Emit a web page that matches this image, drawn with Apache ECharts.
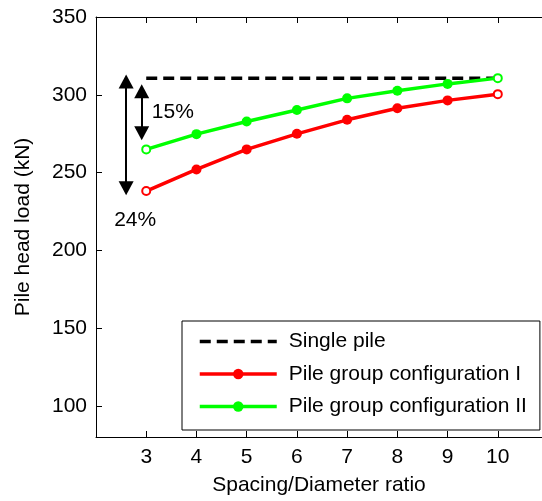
<!DOCTYPE html>
<html>
<head>
<meta charset="utf-8">
<script src="https://cdn.jsdelivr.net/npm/echarts@6/dist/echarts.min.js"></script>
<style>
html,body{margin:0;padding:0;background:#fff;}
#chart{width:542px;height:501px;}
</style>
</head>
<body>
<div id="chart"></div>
<script>
const spacingRatio = [3, 4, 5, 6, 7, 8, 9, 10];
const xTicks = [3, 4, 5, 6, 7, 8, 9, 10];
const yTicks = [100, 150, 200, 250, 300, 350];
const singlePileLoad = 310.7;
const groupConfigI = [238.1, 252.0, 264.9, 274.9, 283.9, 291.3, 296.4, 300.4];
const groupConfigII = [264.9, 274.7, 282.8, 290.2, 297.7, 302.6, 307.0, 310.7];
const arrowX = [2.6, 2.91];
const arrowTop = [308.6, 302.3];
const arrowBottom = [239.9, 275.2];
const noteTexts = ['15%', '24%'];
const noteX = [3.53, 2.78];
const noteY = [289, 219.6];

const FONT = 'Liberation Sans, Arial, sans-serif';
const FS = 21;

function buildData(vals) {
  return vals.map((v, i) => {
    const end = (i === 0 || i === vals.length - 1);
    return end
      ? { value: [spacingRatio[i], v], symbol: 'emptyCircle', symbolSize: 8, itemStyle: { borderWidth: 3 } }
      : { value: [spacingRatio[i], v], symbol: 'circle', symbolSize: 10 };
  });
}

const chart = echarts.init(document.getElementById('chart'), null, { renderer: 'canvas' });
const axisCommon = {
  axisLine: { show: true, onZero: false, lineStyle: { color: '#000', width: 1 } },
  splitLine: { show: false }
};
chart.setOption({
  animation: false,
  backgroundColor: '#fff',
  textStyle: { fontFamily: FONT },
  grid: { left: 96, top: 17, right: 0, bottom: 60, containLabel: false },
  xAxis: [
    Object.assign({
      type: 'value', min: 2, max: 10.88, position: 'bottom',
      name: 'Spacing/Diameter ratio', nameLocation: 'middle', nameGap: 38,
      nameTextStyle: { fontSize: FS, color: '#000', fontFamily: FONT },
      axisTick: { show: true, inside: true, length: 6, customValues: xTicks, lineStyle: { color: '#000' } },
      axisLabel: { show: true, customValues: xTicks, fontSize: FS, color: '#000', margin: 10, fontFamily: FONT }
    }, axisCommon),
    Object.assign({
      type: 'value', min: 2, max: 10.88, position: 'top',
      axisTick: { show: true, inside: true, length: 6, customValues: xTicks, lineStyle: { color: '#000' } },
      axisLabel: { show: false }
    }, axisCommon)
  ],
  yAxis: [
    Object.assign({
      type: 'value', min: 80, max: 350, position: 'left',
      name: 'Pile head load (kN)', nameLocation: 'middle', nameGap: 62,
      nameTextStyle: { fontSize: FS, color: '#000', fontFamily: FONT },
      axisTick: { show: true, inside: true, length: 6, customValues: yTicks, lineStyle: { color: '#000' } },
      axisLabel: { show: true, customValues: yTicks, fontSize: FS, color: '#000', margin: 9, fontFamily: FONT }
    }, axisCommon)
  ],
  legend: {
    orient: 'vertical',
    left: 182, top: 321,
    padding: [10, 13, 13, 16],
    itemGap: 11.5,
    itemWidth: 77,
    itemHeight: 13,
    borderColor: '#000', borderWidth: 1,
    backgroundColor: '#fff',
    lineStyle: { width: 3.5 },
    textStyle: { fontSize: FS, color: '#000', fontFamily: FONT, padding: [0, 0, 0, 7] },
    data: ['Single pile', 'Pile group configuration I', 'Pile group configuration II']
  },
  series: [
    {
      name: 'Single pile', type: 'line', symbol: 'none',
      data: [[spacingRatio[0], singlePileLoad], [spacingRatio[spacingRatio.length - 1], singlePileLoad]],
      lineStyle: { color: '#000', width: 3.5, type: [11, 6] },
      itemStyle: { color: 'rgba(0,0,0,0)' }
    },
    {
      name: 'Pile group configuration I', type: 'line', symbol: 'circle', symbolSize: 10,
      data: buildData(groupConfigI),
      lineStyle: { color: '#ff0000', width: 3.5 },
      itemStyle: { color: '#ff0000', borderColor: '#ff0000', borderWidth: 0 }
    },
    {
      name: 'Pile group configuration II', type: 'line', symbol: 'circle', symbolSize: 10,
      data: buildData(groupConfigII),
      lineStyle: { color: '#00ff00', width: 3.5 },
      itemStyle: { color: '#00ff00', borderColor: '#00ff00', borderWidth: 0 }
    },
    {
      name: 'annotations', type: 'line', symbol: 'none', data: [],
      markLine: {
        silent: true, animation: false,
        symbol: ['triangle', 'triangle'], symbolSize: [15, 14],
        label: { show: false },
        lineStyle: { color: '#000', width: 2, type: 'solid' },
        emphasis: { disabled: true },
        data: arrowX.map((x, i) => [{ coord: [x, arrowTop[i]] }, { coord: [x, arrowBottom[i]] }])
      },
      markPoint: {
        silent: true, animation: false,
        symbol: 'circle', symbolSize: 0,
        itemStyle: { color: 'transparent' },
        label: { show: true, position: 'inside', color: '#000', fontSize: FS, fontFamily: FONT, formatter: p => p.name },
        data: noteTexts.map((t, i) => ({ name: t, coord: [noteX[i], noteY[i]] }))
      }
    }
  ]
});
</script>
</body>
</html>
